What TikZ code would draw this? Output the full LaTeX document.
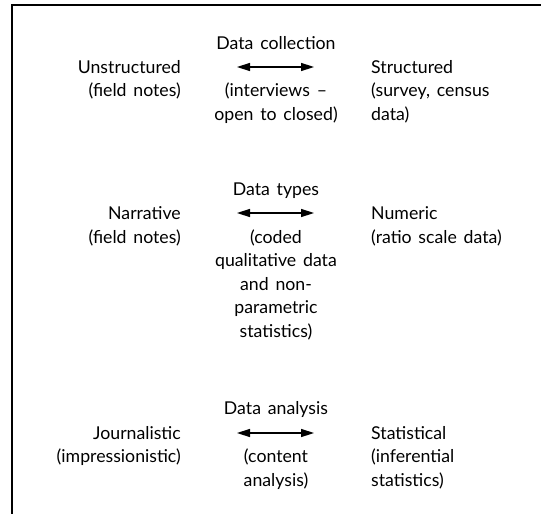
\documentclass[tikz,border=0pt]{standalone}
\usepackage{fontspec}
\setmainfont[WordSpace=1.5]{Lato}
\usetikzlibrary{arrows.meta}
\tikzset{
  lbl/.style={inner sep=0pt, font=\fontsize{17.7}{23.5}\selectfont},
  lft/.style={lbl, anchor=base east, align=right},
  rgt/.style={lbl, anchor=base west, align=left},
  mid/.style={lbl, anchor=base, align=center},
  dbl/.style={line width=1.5pt, {Triangle[length=13pt,width=8pt]}-{Triangle[length=13pt,width=8pt]}},
  frame/.style={line width=2pt}
}
\begin{document}
\begin{tikzpicture}[x=1pt,y=-1pt]
\useasboundingbox (0,0) rectangle (541,514);
\coordinate (fa) at (12,514);
\coordinate (fb) at (12,5);
\coordinate (fc) at (541,5);
\draw[frame] (fa) -- (fb) -- (fc);
% row 1 (base anchor = baseline of last line)
\node[mid] (t1) at (276,49) {Data collection};
\coordinate (a1l) at (237,67);
\coordinate (a1r) at (314,67);
\draw[dbl] (a1l) -- (a1r);
\node[lft] (l1) at (181,96.5) {Unstructured\\(field notes)};
\node[mid] (c1) at (276,120) {(interviews --\\open to closed)};
\node[rgt] (r1) at (371,120) {Structured\\(survey, census\\data)};
% row 2
\node[mid] (t2) at (276,195) {Data types};
\coordinate (a2l) at (237,213);
\coordinate (a2r) at (314,213);
\draw[dbl] (a2l) -- (a2r);
\node[lft] (l2) at (181,243) {Narrative\\(field notes)};
\node[mid] (c2) at (276,337) {(coded\\qualitative data\\and non-\\parametric\\statistics)};
\node[rgt] (r2) at (371,243) {Numeric\\(ratio scale data)};
% row 3
\node[mid] (t3) at (276,414) {Data analysis};
\coordinate (a3l) at (237,433);
\coordinate (a3r) at (314,433);
\draw[dbl] (a3l) -- (a3r);
\node[lft] (l3) at (181,462.5) {Journalistic\\(impressionistic)};
\node[mid] (c3) at (276,486) {(content\\analysis)};
\node[rgt] (r3) at (371,486) {Statistical\\(inferential\\statistics)};
\end{tikzpicture}
\end{document}
